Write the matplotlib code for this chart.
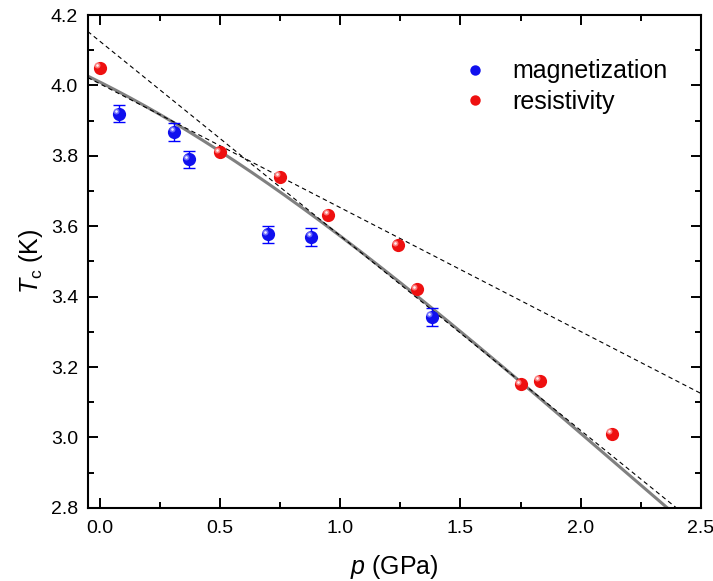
import numpy as np
import matplotlib
matplotlib.use('Agg')
import matplotlib.pyplot as plt
from matplotlib.ticker import MultipleLocator, FormatStrFormatter
from matplotlib.transforms import offset_copy
from matplotlib.lines import Line2D

plt.rcParams['font.family'] = ['Liberation Sans', 'DejaVu Sans']
plt.rcParams['mathtext.fontset'] = 'custom'
plt.rcParams['mathtext.rm'] = 'Liberation Sans'
plt.rcParams['mathtext.it'] = 'Liberation Sans:italic'

# magnetization data
p_mag = [0.08, 0.31, 0.37, 0.70, 0.88, 1.38]
tc_mag = [3.92, 3.868, 3.79, 3.577, 3.57, 3.342]
tc_mag_err = [0.025, 0.025, 0.025, 0.025, 0.025, 0.025]

# resistivity data
p_res = [0.0, 0.50, 0.75, 0.95, 1.24, 1.32, 1.75, 1.83, 2.13]
tc_res = [4.05, 3.81, 3.74, 3.632, 3.546, 3.421, 3.151, 3.16, 3.01]

# fit coefficients (Tc = c0 + c1 p + c2 p^2 + c3 p^3)
fit_solid = [4.010, -0.3417, -0.1132, 0.01725]
fit_lin_low = [4.005, -0.352]    # initial slope line
fit_lin_high = [4.126, -0.553]   # high pressure slope line

p_fit = np.linspace(-0.05, 2.5, 300)


def poly(c, p):
    return sum(ci * p**i for i, ci in enumerate(c))


fig = plt.figure(figsize=(7.13, 5.81), dpi=100)
ax = fig.add_axes([0.123, 0.126, 0.860, 0.848])

ax.plot(p_fit, poly(fit_solid, p_fit), color='#808080', lw=2.2, zorder=2)
ax.plot(p_fit, poly(fit_lin_high, p_fit), color='black', lw=0.8, ls=(0, (4, 3)), zorder=2)
ax.plot(p_fit, poly(fit_lin_low, p_fit), color='black', lw=0.8, ls=(0, (4, 3)), zorder=2)

ax.errorbar(p_mag, tc_mag, yerr=tc_mag_err, fmt='none', ecolor='blue',
            elinewidth=1, capsize=4.2, capthick=1, zorder=3)


def sphere(x, y, color, light, ms=9.5):
    ax.plot(x, y, 'o', color=color, ms=ms, mew=0, zorder=4)
    tr = offset_copy(ax.transData, fig=fig, x=-ms * 0.2, y=ms * 0.2, units='points')
    ax.plot(x, y, 'o', color=light, ms=ms * 0.45, mew=0, alpha=0.8, transform=tr, zorder=5)
    ax.plot(x, y, 'o', color='white', ms=ms * 0.2, mew=0, alpha=0.9, transform=tr, zorder=6)


sphere(p_mag, tc_mag, '#1010ee', '#8080ff')
sphere(p_res, tc_res, '#ee1010', '#ff9090')

ax.set_xlim(-0.05, 2.5)
ax.set_ylim(2.8, 4.2)
ax.xaxis.set_major_locator(MultipleLocator(0.5))
ax.xaxis.set_minor_locator(MultipleLocator(0.25))
ax.yaxis.set_major_locator(MultipleLocator(0.2))
ax.yaxis.set_minor_locator(MultipleLocator(0.1))
ax.xaxis.set_major_formatter(FormatStrFormatter('%.1f'))
ax.yaxis.set_major_formatter(FormatStrFormatter('%.1f'))
ax.tick_params(which='both', direction='in', top=True, right=True, width=1.4, labelsize=14)
ax.tick_params(which='major', length=7, pad=7)
ax.tick_params(axis='x', which='major', pad=9)
ax.tick_params(which='minor', length=4)
for s in ax.spines.values():
    s.set_linewidth(1.5)

ax.set_xlabel(r'$p$ (GPa)', fontsize=18, labelpad=11)
ax.set_ylabel(r'$T_{\rm c}$ (K)', fontsize=18, labelpad=4)

h_mag = Line2D([], [], ls='none', marker='o', ms=7.5, color='#1010ee', mew=0)
h_res = Line2D([], [], ls='none', marker='o', ms=7.5, color='#ee1010', mew=0)
ax.legend([h_mag, h_res], ['magnetization', 'resistivity'], loc='upper left',
          bbox_to_anchor=(0.611, 0.91), frameon=False, fontsize=18, borderpad=0,
          borderaxespad=0, handlelength=1.0, handletextpad=0.98, labelspacing=0.25)

fig.savefig('out.png', dpi=100)
